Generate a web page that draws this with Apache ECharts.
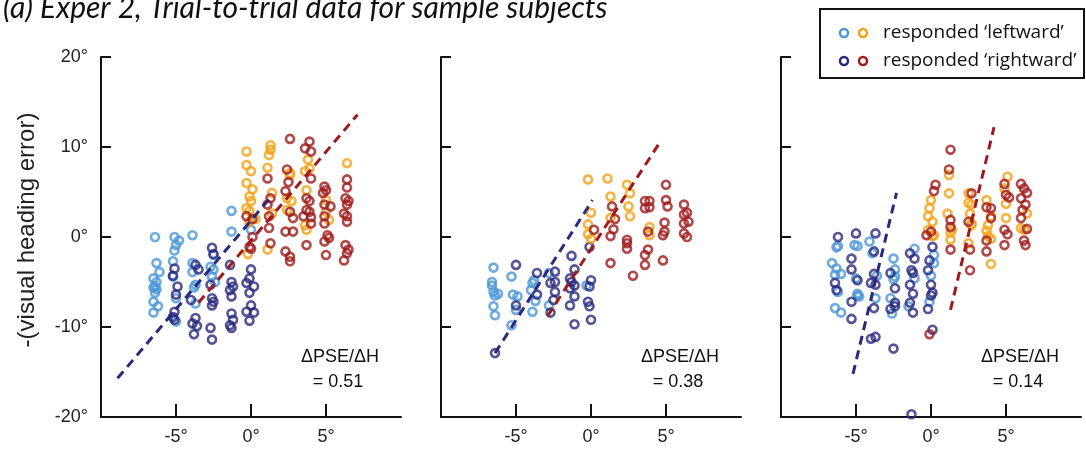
<!DOCTYPE html>
<html>
<head>
<meta charset="utf-8">
<script src="https://cdn.jsdelivr.net/npm/echarts@6/dist/echarts.min.js"></script>
<style>
  html, body { margin: 0; padding: 0; background: #fff; }
  #main { width: 1086px; height: 453px; }
</style>
</head>
<body>
<div id="main"></div>
<script>
// ---- data: [heading, -(visual heading error)] in degrees ----
// panel 1
var p1Blue = [[-6.4,0.0],[-6.3,-2.9],[-6.1,-3.9],[-6.5,-4.6],[-6.3,-5.0],[-6.4,-5.5],[-6.3,-5.8],[-6.5,-5.6],[-6.4,-6.2],[-6.5,-7.2],[-6.2,-7.7],[-6.5,-8.4],
  [-5.1,0.0],[-4.8,-0.4],[-5.0,-0.9],[-5.1,-1.5],[-5.2,-2.7],[-5.2,-4.4],[-5.0,-6.8],[-5.0,-9.4],
  [-3.9,0.2],[-3.9,-2.9],[-3.9,-3.9],[-3.7,-5.3],[-3.8,-5.6],[-3.7,-7.4],
  [-2.5,-2.0],[-2.7,-3.3],[-2.5,-3.6],[-2.6,-4.4],[-2.4,-5.0],
  [-1.3,2.9],[-1.3,0.6],[0.0,0.8]];
var p1Navy = [[-5.1,-3.5],[-5.2,-4.3],[-4.9,-5.5],[-5.0,-6.4],[-5.1,-8.3],[-5.2,-8.9],[-5.1,-9.2],
  [-3.7,-3.1],[-3.5,-3.6],[-4.0,-7.0],[-3.7,-9.0],[-3.9,-9.6],[-3.8,-10.8],[-3.6,-9.9],
  [-2.6,-1.2],[-2.5,-1.9],[-2.7,-5.3],[-2.6,-6.8],[-2.5,-7.2],[-2.6,-7.6],[-2.7,-10.1],[-2.6,-11.4],
  [-1.4,-3.1],[-1.3,-5.0],[-1.4,-5.9],[-1.2,-5.5],[-1.3,-6.6],[-1.3,-8.5],[-1.2,-9.2],[-1.3,-10.1],[-1.4,-9.8],
  [0.0,-3.6],[-0.1,-4.6],[-0.3,-5.1],[0.2,-5.5],[-0.1,-6.2],[0.0,-7.6],[-0.3,-8.3],[0.2,-8.4],[-0.1,-9.3]];
var p1Orange = [[-0.3,9.5],[-0.3,8.0],[0.0,7.3],[-0.3,6.0],[0.1,5.3],[-0.1,4.5],[0.0,4.0],[-0.3,3.2],[-0.1,2.9],[0.3,2.0],[-0.1,1.7],[-0.2,-1.9],
  [1.3,10.2],[1.3,9.7],[1.2,9.1],[1.1,7.7],[1.4,4.9],[1.4,2.6],[1.1,-1.4],
  [2.6,7.1],[2.6,6.9],[2.4,4.3],[2.7,4.0],[2.4,3.0],
  [3.8,8.6],[3.9,7.6],[3.6,7.3],[3.7,5.2],[3.6,1.3],[3.7,0.8],
  [5.0,4.1],[5.0,2.8],[5.2,1.9],[6.4,8.2]];
var p1Red = [[-0.3,2.3],[0.1,2.0],[0.1,0.0],[-0.1,-1.1],[0.0,-1.3],
  [1.1,6.5],[1.3,4.3],[1.1,3.6],[1.2,2.3],[1.2,1.0],[1.3,-0.7],
  [2.6,10.9],[2.4,7.5],[2.5,6.1],[2.3,5.1],[2.6,2.8],[2.8,2.1],[2.3,0.6],[2.8,0.6],[2.3,-1.6],[2.6,-2.2],[2.6,-2.7],
  [3.9,10.6],[3.6,9.85],[4.0,9.5],[4.0,6.5],[3.7,4.3],[3.9,4.0],[3.7,3.0],[3.9,2.8],[3.5,2.3],[4.0,2.2],[4.0,1.5],[3.7,-0.9],
  [4.9,5.6],[5.0,5.2],[4.8,4.9],[4.9,3.6],[5.3,3.4],[4.9,2.3],[4.9,1.5],[5.1,0.2],[5.2,-0.1],[4.9,-0.5],[5.0,-2.0],
  [6.4,6.4],[6.4,5.5],[6.3,4.3],[6.5,4.0],[6.4,3.6],[6.2,2.6],[6.4,2.3],[6.4,1.7],[6.3,-0.9],[6.5,-1.4],[6.4,-1.8],[6.2,-2.6]];
var p1NavyFit = [[-8.9,-15.7],[1.3,4.4]];
var p1RedFit = [[-3.5,-7.3],[7.1,13.6]];

// panel 2
var p2Blue = [[-6.5,-3.4],[-6.6,-5.0],[-6.6,-5.4],[-6.5,-6.1],[-6.2,-6.3],[-6.4,-6.5],[-6.5,-7.7],[-6.4,-8.7],
  [-5.3,-4.4],[-5.2,-6.4],[-4.9,-6.6],[-5.0,-8.1],[-5.3,-9.8],
  [-3.9,-5.1],[-3.8,-4.8],[-4.0,-5.9],[-3.7,-7.1],[-3.9,-8.3],
  [-2.8,-4.0],[-2.8,-7.6],[-0.3,-5.4]];
var p2Navy = [[-6.4,-12.9],[-5.0,-3.1],[-5.0,-7.6],[-3.6,-4.0],[-3.6,-6.4],
  [-2.4,-3.85],[-2.7,-5.1],[-2.4,-5.0],[-2.4,-6.1],[-2.5,-7.0],[-2.7,-8.4],
  [-1.3,-2.1],[-1.1,-3.6],[-1.4,-4.6],[-1.3,-5.0],[-1.1,-5.4],[-1.4,-5.7],[-1.1,-6.6],[-1.4,-7.6],[-1.1,-9.7],
  [-0.1,-1.1],[0.0,-4.8],[-0.1,-5.5],[-0.2,-7.2],[-0.1,-7.7],[0.0,-9.2]];
var p2Orange = [[-0.2,6.4],[0.0,2.7],[-0.2,1.4],[-0.2,0.3],[0.0,-0.2],
  [1.1,6.5],[1.3,4.5],[1.3,2.1],
  [2.4,5.8],[2.6,4.85],[2.5,3.4],[2.6,2.3],[3.9,1.1],[3.9,0.2]];
var p2Red = [[0.2,0.8],[1.4,3.4],[1.6,2.0],[1.5,0.85],[1.3,0.1],[1.3,-2.9],
  [2.4,-0.3],[2.4,-0.7],[2.4,-1.3],[2.8,-4.3],
  [3.6,4.0],[3.9,4.0],[3.6,3.2],[3.9,3.3],[3.8,0.6],[3.8,-1.4],[3.6,-2.0],[3.6,-3.1],
  [5.0,5.8],[5.0,4.1],[5.1,3.4],[4.9,1.6],[4.9,0.6],[4.8,0.2],[4.8,-2.6],
  [6.2,3.6],[6.4,2.7],[6.2,2.5],[6.5,1.7],[6.2,1.5],[6.2,0.4],[6.4,0.0]];
var p2NavyFit = [[-6.4,-12.9],[0.1,4.1]];
var p2RedFit = [[-2.9,-8.8],[4.7,10.8]];

// panel 3
var p3Blue = [[-6.3,-1.15],[-6.2,-1.0],[-6.6,-2.9],[-6.3,-3.5],[-6.4,-4.2],[-6.0,-4.1],[-6.2,-6.1],[-6.4,-7.9],[-6.0,-8.4],
  [-5.1,-0.9],[-4.9,-1.0],[-5.0,-4.6],[-4.9,-6.3],[-4.8,-6.6],[-4.9,-6.5],
  [-4.1,-0.5],[-3.9,-1.8],[-3.6,-4.3],[-3.7,-6.8],
  [-2.5,-2.4],[-2.4,-3.6],[-2.5,-4.7],[-2.4,-4.4],[-2.7,-6.8],[-2.6,-8.5],
  [-1.1,-1.3],[-1.1,-4.6],[-1.5,-7.7],
  [0.2,-2.0],[0.2,-2.9],[0.0,-4.3],[-0.1,-7.2]];
var p3Navy = [[-6.2,0.0],[-6.4,-5.1],[-6.3,-5.9],
  [-5.0,0.4],[-5.3,-2.4],[-5.3,-3.6],[-4.9,-4.8],[-5.3,-7.2],[-5.3,-9.1],
  [-3.7,0.4],[-3.8,-1.6],[-3.8,-4.1],[-4.0,-5.1],[-3.7,-5.3],[-3.8,-7.9],[-4.0,-11.3],[-3.7,-11.1],
  [-2.7,-4.0],[-2.4,-5.7],[-2.4,-7.3],[-2.7,-8.0],[-2.4,-7.7],[-2.5,-12.4],
  [-1.4,-1.8],[-1.1,-2.4],[-1.3,-3.7],[-1.2,-4.0],[-1.4,-5.3],[-1.2,-6.3],[-1.4,-7.3],[-1.2,-8.4],[-1.3,-19.7],
  [0.1,-1.1],[-0.1,-2.6],[-0.2,-3.7],[0.0,-5.3],[0.1,-6.2],[0.0,-6.5],[-0.2,-8.0],[0.1,-10.3]];
var p3Orange = [[0.0,4.1],[-0.1,3.2],[-0.2,2.3],[0.1,1.7],[-0.2,0.8],[0.1,0.1],[0.2,0.2],
  [1.2,6.9],[1.2,4.85],[1.1,2.6],[1.4,0.8],[1.3,-0.3],[1.3,0.5],
  [2.5,4.85],[2.5,3.8],[2.7,3.6],[2.6,2.6],[2.7,1.5],[2.7,1.3],[2.5,-0.7],
  [3.7,4.1],[4.0,2.3],[3.8,1.3],[3.7,0.7],[3.8,0.1],[4.0,-0.2],[4.0,-3.0],
  [5.1,6.7],[4.9,5.4],[5.0,3.7],[5.0,2.1],[6.4,2.6],[6.0,1.0],[6.2,0.8]];
var p3Red = [[0.3,5.8],[0.2,5.1],[-0.3,0.2],[0.0,0.6],[-0.1,-10.8],
  [1.3,9.7],[1.2,7.5],[1.3,1.9],[1.3,1.1],[1.3,-1.4],
  [2.7,4.85],[2.5,1.7],[2.6,-1.4],[2.6,-3.7],
  [3.7,3.3],[4.0,3.2],[4.0,2.1],[3.7,-0.4],[3.7,-1.6],
  [4.9,5.9],[5.0,4.7],[5.2,4.4],[4.9,0.8],[5.1,0.3],[4.9,-0.9],
  [6.0,5.9],[6.2,5.4],[6.4,4.9],[6.0,4.3],[6.3,3.6],[6.1,3.0],[6.0,2.1],[6.4,0.9],[6.2,-0.4],[6.3,-0.9]];
var p3NavyFit = [[-5.2,-15.2],[-2.3,4.9]];
var p3RedFit = [[1.3,-8.1],[4.2,12.2]];

var slopes = ['0.51', '0.38', '0.14'];
var xTicks = [-5, 0, 5];

var panels = [
  { blue: p1Blue, navy: p1Navy, orange: p1Orange, red: p1Red, navyFit: p1NavyFit, redFit: p1RedFit },
  { blue: p2Blue, navy: p2Navy, orange: p2Orange, red: p2Red, navyFit: p2NavyFit, redFit: p2RedFit },
  { blue: p3Blue, navy: p3Navy, orange: p3Orange, red: p3Red, navyFit: p3NavyFit, redFit: p3RedFit }
];

var BLUE = '#4b96d7', NAVY = '#29297e', ORANGE = '#f5a013', RED = '#a01a1c';
var FONT = 'Liberation Sans';

var myChart = echarts.init(document.getElementById('main'));

var grids = [], xAxes = [], yAxes = [], series = [], graphics = [];
var lefts = [101, 441, 781];

function ring(name, data, color, i) {
  return {
    name: name, type: 'scatter', xAxisIndex: i, yAxisIndex: i,
    data: data, symbol: 'circle', symbolSize: 8,
    itemStyle: { color: 'rgba(0,0,0,0)', borderColor: color, borderWidth: 2.6 },
    silent: true
  };
}
function fit(data, color, i) {
  return {
    type: 'line', xAxisIndex: i, yAxisIndex: i, data: data,
    symbol: 'none', z: 3, silent: true,
    lineStyle: { color: color, width: 3, type: [9, 6] }
  };
}

panels.forEach(function (p, i) {
  grids.push({ left: lefts[i], top: 57, width: 300, height: 360 });
  xAxes.push({
    type: 'value', gridIndex: i, min: -10, max: 10,
    splitLine: { show: false },
    axisLine: { onZero: false, lineStyle: { color: '#111', width: 2 } },
    axisTick: { inside: true, length: 13, customValues: xTicks, lineStyle: { color: '#111', width: 2 } },
    axisLabel: { customValues: xTicks, formatter: '{value}°', margin: 11, color: '#222', fontSize: 18, fontFamily: FONT }
  });
  yAxes.push({
    type: 'value', gridIndex: i, min: -20, max: 20, interval: 10,
    splitLine: { show: false },
    axisLine: { show: true, onZero: false, lineStyle: { color: '#111', width: 2 } },
    axisTick: { inside: true, length: 10, lineStyle: { color: '#111', width: 2 } },
    axisLabel: { show: i === 0, formatter: '{value}°', margin: 13, color: '#222', fontSize: 18, fontFamily: FONT }
  });
  series.push(ring("responded 'leftward'", p.blue, BLUE, i));
  series.push(ring("responded 'rightward'", p.navy, NAVY, i));
  series.push(ring("responded 'leftward'", p.orange, ORANGE, i));
  series.push(ring("responded 'rightward'", p.red, RED, i));
  series.push(fit(p.navyFit, NAVY, i));
  series.push(fit(p.redFit, RED, i));

  graphics.push({
    type: 'text', x: lefts[i] + 239, y: 357,
    style: { text: 'ΔPSE/ΔH', align: 'center', verticalAlign: 'middle', fill: '#111', font: '18px "Liberation Sans"' }
  });
  graphics.push({
    type: 'text', x: lefts[i] + 237, y: 382,
    style: { text: '= ' + slopes[i], align: 'center', verticalAlign: 'middle', fill: '#111', font: '18px "Liberation Sans"' }
  });
});

// title, y-axis name and legend box
graphics.push({
  type: 'text', x: 3, y: 8,
  style: { text: '(a) Exper 2, Trial-to-trial data for sample subjects', fill: '#111', font: 'italic 30px Lato', verticalAlign: 'middle' }
});
graphics.push({
  type: 'text', x: 27, y: 230, rotation: Math.PI / 2,
  style: { text: '-(visual heading error)', fill: '#222', font: '24px "Liberation Sans"', align: 'center', verticalAlign: 'middle' }
});
graphics.push({
  type: 'rect', shape: { x: 820, y: 9, width: 264, height: 69 },
  style: { fill: '#fff', stroke: '#111', lineWidth: 2 }
});
[[BLUE, ORANGE, "responded ‘leftward’", 33], [NAVY, RED, "responded ‘rightward’", 61]].forEach(function (row) {
  graphics.push({ type: 'circle', shape: { cx: 844, cy: row[3], r: 4 }, style: { fill: 'none', stroke: row[0], lineWidth: 2.5 } });
  graphics.push({ type: 'circle', shape: { cx: 863, cy: row[3], r: 4 }, style: { fill: 'none', stroke: row[1], lineWidth: 2.5 } });
  graphics.push({
    type: 'text', x: 883, y: row[3],
    style: { text: row[2], fill: '#111', font: '19px "Open Sans"', verticalAlign: 'middle' }
  });
});

option = {
  backgroundColor: '#fff',
  animation: false,
  grid: grids,
  xAxis: xAxes,
  yAxis: yAxes,
  series: series,
  graphic: graphics
};

myChart.setOption(option);
</script>
</body>
</html>
